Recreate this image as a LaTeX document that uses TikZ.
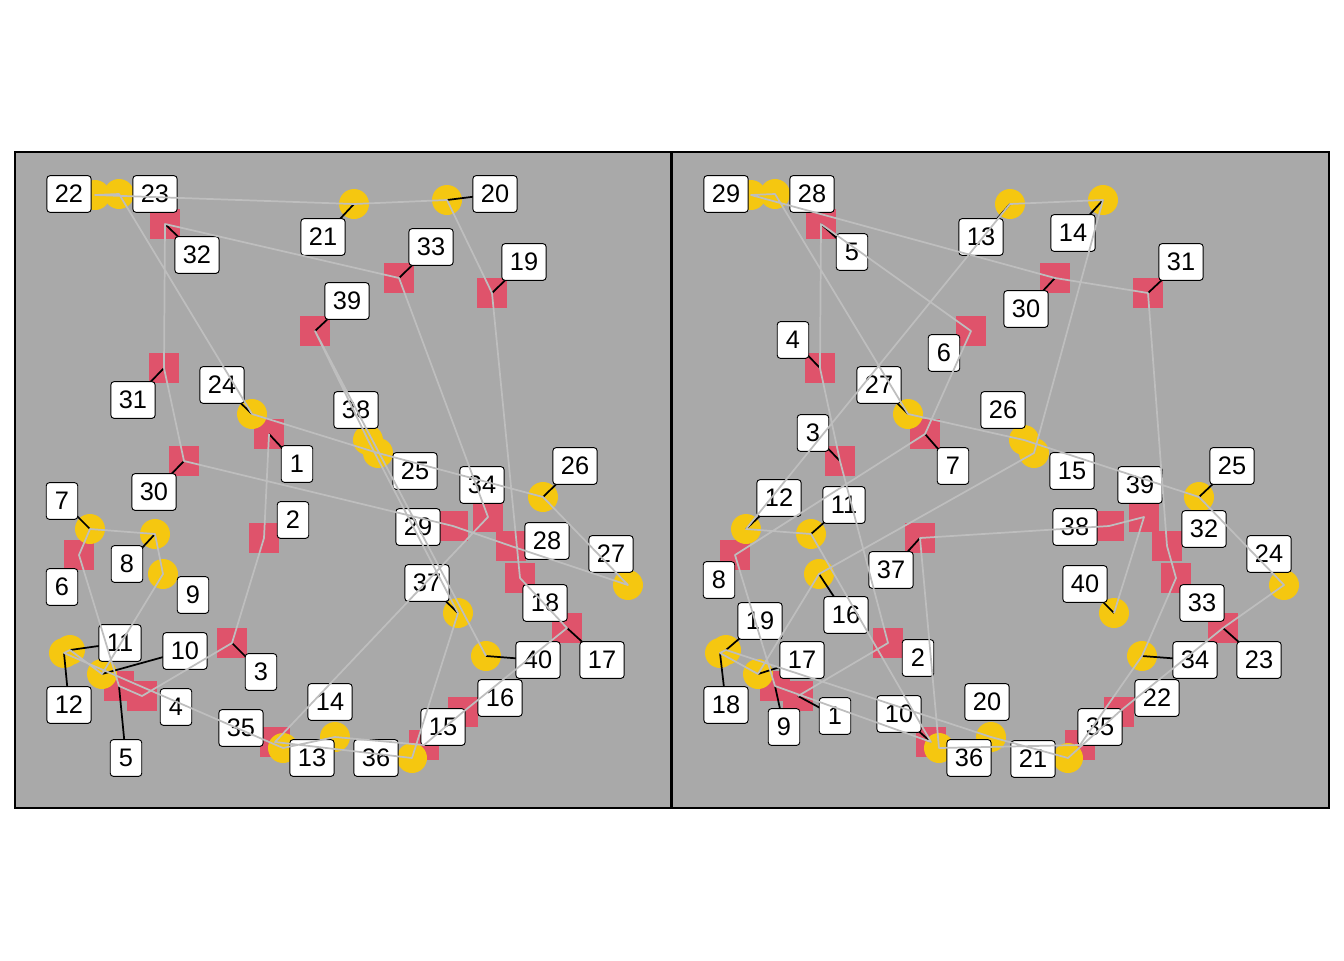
\documentclass[tikz,border=0pt]{standalone}
\usepackage{fontspec}
\setmainfont{Liberation Sans}
\definecolor{ptyellow}{HTML}{F5C710}
\definecolor{ptred}{HTML}{DF536B}
\definecolor{panelbg}{HTML}{A9A9A9}
\definecolor{tourgray}{HTML}{BEBEBE}
\tikzset{
  ptc/.style={circle, fill=ptyellow, inner sep=0pt, minimum size=22.5pt},
  pts/.style={rectangle, fill=ptred, inner sep=0pt, minimum size=22.5pt},
  lab/.style={draw=black, line width=0.7pt, fill=white, rounded corners=2.3pt,
    font=\fontsize{19}{19}\selectfont, inner xsep=6pt, inner ysep=0pt,
    minimum height=27.5pt, minimum width=23.6pt},
  tour/.style={draw=tourgray, line width=1.3pt, line join=round},
  lead/.style={draw=black, line width=1.3pt},
  panel/.style={draw=black, line width=0.8pt, fill=panelbg}
}
\begin{document}
\begin{tikzpicture}[x=0.75pt,y=-0.75pt]
\useasboundingbox (0,0) rectangle (1344,960);
\fill[white] (0,0) rectangle (1344,960);
% panels
\draw[panel] (15,152) rectangle (671,808);
\draw[panel] (672,152) rectangle (1329,808);

% ---------------- left panel ----------------
\foreach \n/\x/\y in {1/269/434,2/264/538,3/232/643,4/142/696,5/119/686,6/79/555,
  15/424/745,16/463/712,17/567/628,18/520/578,19/492/293,28/511/546,29/453/526,
  30/184/461,31/164/368,32/165/224,33/399/278,34/488/517,35/275/742,39/315/331}
  {\node[pts] (L\n) at (\x,\y) {};}
\foreach \n/\x/\y in {7/90/529,8/155/534,9/163/574,10/102/674,11/70/650,12/64/653,
  13/283/748,14/335/737,20/447/200,21/354/204,22/95/195,23/119/194,24/252/414,
  25/378/453,26/543/497,27/628/585,36/412/758,37/458/613,38/368/440,40/486/656}
  {\node[ptc] (L\n) at (\x,\y) {};}
\foreach \n/\x/\y in {1/297/464,2/293/520,3/261/672,4/176/707,5/126/758,6/62/587,
  7/62/501,8/127/564,9/193/595,10/185/651,11/120/643,12/69/705,13/312/758,
  14/330/702,15/443/727,16/500/698,17/602/660,18/545/603,19/524/262,20/495/194,
  21/323/237,22/69/194,23/155/194,24/222/385,25/415/471,26/575/466,27/611/554,
  28/547/541,29/418/527,30/154/492,31/133/400,32/197/255,33/431/247,34/482/485,
  35/241/728,36/376/758,37/427/583,38/356/410,39/347/301,40/538/660}
  {\coordinate (LP\n) at (\x,\y);}
\foreach \n in {32,21,20,33,19,39,31,24,1,30,7,8,26,37,40,17,3,5,12,11,10}
  {\draw[lead] (L\n.center) -- (LP\n);}
\foreach \n in {1,...,40}
  {\node[lab] (LL\n) at (LP\n) {\n};}
\draw[tour] (L1.center) \foreach \i in {2,...,40} { -- (L\i.center) };

% ---------------- right panel ----------------
\foreach \n/\x/\y in {1/798/696,2/888/643,3/840/461,4/820/368,5/821/224,6/971/331,
  7/925/434,8/735/555,9/775/686,10/931/742,22/1119/712,23/1223/628,30/1055/278,
  31/1148/293,32/1167/546,33/1176/578,35/1080/745,37/920/538,38/1109/526,39/1144/517}
  {\node[pts] (R\n) at (\x,\y) {};}
\foreach \n/\x/\y in {11/811/534,12/746/529,13/1010/204,14/1103/200,15/1034/453,
  16/819/574,17/758/674,18/720/653,19/726/650,20/991/737,21/1068/758,24/1284/585,
  25/1199/497,26/1024/440,27/908/414,28/775/194,29/751/195,34/1142/656,
  36/939/748,40/1114/613}
  {\node[ptc] (R\n) at (\x,\y) {};}
\foreach \n/\x/\y in {1/835/716,2/918/658,3/813/433,4/793/340,5/852/252,6/944/353,
  7/953/466,8/719/580,9/784/727,10/899/714,11/844/505,12/779/498,13/981/237,
  14/1073/233,15/1072/471,16/846/615,17/802/660,18/726/705,19/760/621,20/987/702,
  21/1033/759,22/1157/698,23/1259/660,24/1269/554,25/1232/466,26/1003/410,
  27/879/385,28/812/194,29/726/194,30/1026/309,31/1181/262,32/1204/529,
  33/1202/603,34/1195/660,35/1100/727,36/969/758,37/891/570,38/1075/527,
  39/1140/485,40/1085/584}
  {\coordinate (RP\n) at (\x,\y);}
\foreach \n in {5,13,14,30,31,4,27,7,3,12,11,37,25,16,40,34,23,10,1,9,17,18,19}
  {\draw[lead] (R\n.center) -- (RP\n);}
\foreach \n in {1,...,40}
  {\node[lab] (RL\n) at (RP\n) {\n};}
\draw[tour] (R1.center) \foreach \i in {2,...,40} { -- (R\i.center) };
\end{tikzpicture}
\end{document}
